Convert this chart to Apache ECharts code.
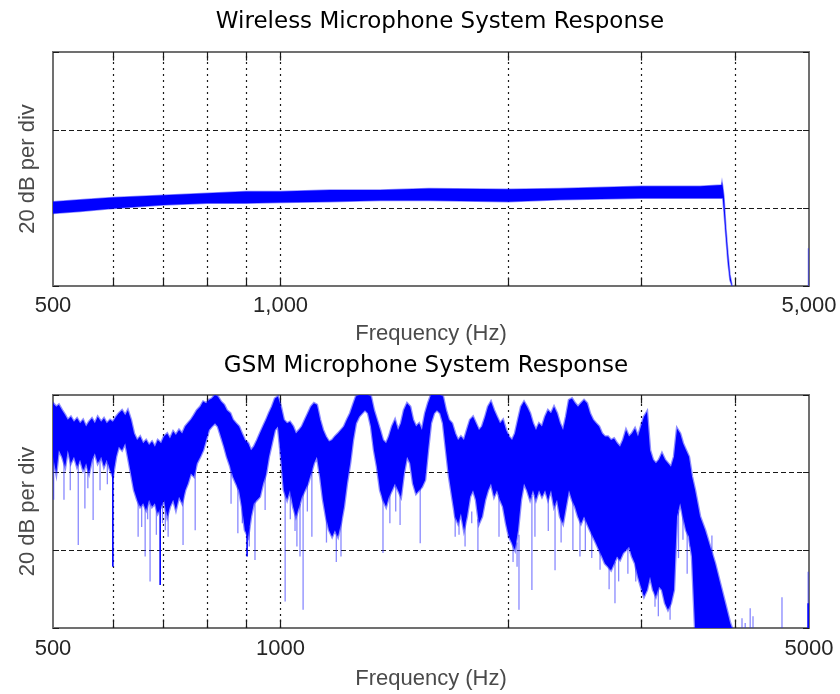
<!DOCTYPE html>
<html>
<head>
<meta charset="utf-8">
<script src="https://cdn.jsdelivr.net/npm/echarts@6/dist/echarts.min.js"></script>
<style>
html,body{margin:0;padding:0;background:#ffffff;}
#main{width:840px;height:694px;}
</style>
</head>
<body>
<div id="main"></div>
<script>
// ---------- DATA ----------
const titles = ['Wireless Microphone System Response', 'GSM Microphone System Response'];
const xAxisName = 'Frequency (Hz)';
const yAxisName = '20 dB per div';
const tickValues = [500, 1000, 5000];
const topTickLabels = ['500', '1,000', '5,000'];
const bottomTickLabels = ['500', '1000', '5000'];
const gridFreqs = [600, 700, 800, 900, 1000, 2000, 3000, 4000];
const dbMin = 0, dbMax = 60, dbStep = 20;

// Wireless response: upper and lower edge of the noisy trace (dB)
const wirelessFreq = [500, 543, 600, 700, 800, 900, 1000, 1162, 1354, 1571, 2000, 2342, 3000, 3588, 3830, 3836, 3845, 3859, 3882, 3906, 3930, 3954];
const wirelessHi   = [21.6, 22.1, 22.7, 23.3, 23.8, 24.2, 24.2, 24.6, 24.6, 25.0, 24.8, 25.0, 25.6, 25.6, 25.9, 26.7, 25.5, 23.0, 15.0, 8.5, 3.0, 0.3];
const wirelessLo   = [18.6, 19.1, 19.9, 20.8, 21.2, 21.2, 21.4, 21.6, 21.9, 21.9, 21.6, 22.1, 22.5, 22.5, 22.5, 22.5, 22.5, 19.0, 12.5, 6.0, 1.5, 0];
const wirelessSpikeFreq = [4990];
const wirelessSpikeTop = [9.7];
const wirelessSpikeBottom = [0];

// GSM response: upper edge and lower edge of the dense trace (dB)
const gsmFreq = [
  500,505,509,514,519,523,528,533,538,543,
  548,553,558,563,568,573,579,584,589,595,
  600,606,611,617,623,628,634,640,646,652,
  658,664,670,676,682,688,695,701,708,714,
  721,727,734,741,748,754,761,768,775,783,
  790,797,804,811,819,826,834,842,849,858,
  865,873,881,889,897,906,914,922,931,939,
  948,957,965,974,983,992,1001,1010,1020,1029,
  1039,1048,1058,1067,1077,1087,1097,1107,1117,1128,
  1138,1148,1159,1170,1180,1191,1202,1213,1224,1236,
  1247,1258,1270,1282,1293,1305,1317,1329,1341,1354,
  1366,1379,1391,1404,1417,1430,1443,1456,1470,1484,
  1497,1511,1525,1538,1553,1567,1581,1596,1610,1626,
  1640,1655,1670,1686,1702,1717,1732,1748,1764,1781,
  1797,1813,1830,1847,1865,1881,1898,1916,1933,1951,
  1969,1987,2005,2024,2042,2061,2080,2099,2118,2138,
  2157,2177,2197,2217,2238,2258,2279,2300,2321,2342,
  2364,2385,2407,2429,2452,2474,2497,2520,2543,2566,
  2590,2614,2638,2662,2686,2711,2736,2761,2786,2812,
  2838,2864,2890,2916,2943,2970,2997,3025,3053,3081,
  3109,3137,3166,3195,3225,3254,3284,3314,3345,3377,
  3406,3438,3469,3501,3534,3588,3644,3700,3757,3814,
  3873,3932,3954
];
const gsmHi = [
  57.9,57.0,57.5,56.1,54.8,53.6,54.4,53.1,54.0,52.7,
  53.6,51.9,53.1,54.0,52.7,54.4,53.1,54.0,52.7,53.6,
  53.1,54.4,55.3,56.1,54.8,56.1,53.6,50.1,48.4,49.3,
  47.6,48.4,47.1,48.0,46.7,48.4,47.6,49.3,50.1,48.8,
  50.6,49.7,51.0,50.1,51.9,52.7,53.6,54.8,56.1,57.0,
  58.3,57.9,58.7,59.1,60.0,59.6,58.3,57.5,56.1,55.3,
  53.6,52.7,51.9,50.1,48.4,47.6,45.8,46.7,48.4,50.1,
  51.9,53.6,55.3,57.0,59.1,59.6,57.0,53.6,52.7,53.1,
  51.9,50.1,51.0,51.9,53.6,55.3,57.0,57.9,57.5,53.6,
  51.0,49.3,48.0,48.4,49.3,50.1,51.0,51.9,53.6,55.3,
  57.5,59.6,60.0,60.0,60.0,60.0,59.6,56.1,53.6,51.0,
  48.4,47.6,49.3,51.9,53.6,51.0,52.7,56.1,57.9,57.0,
  53.6,51.9,52.7,51.0,55.3,57.9,60.0,60.0,60.0,60.0,
  59.6,56.1,53.6,52.7,50.1,48.4,49.3,48.4,51.0,53.6,
  54.4,52.7,51.0,51.9,54.4,57.0,58.3,56.1,54.4,52.7,
  53.6,51.0,49.3,48.4,50.1,53.6,57.0,58.3,57.0,55.3,
  52.7,51.0,52.7,51.9,54.4,56.1,55.3,57.0,55.3,52.7,
  51.0,54.4,58.7,59.1,57.9,57.0,57.9,58.7,57.9,55.3,
  53.6,52.7,51.9,50.1,49.3,49.3,48.4,48.8,47.6,46.7,
  48.4,51.0,49.3,50.1,51.4,49.3,51.9,54.4,55.7,45.8,
  43.3,42.4,43.3,45.0,43.3,42.4,41.5,44.1,51.4,50.1,
  47.6,45.8,44.1,39.0,35.5,28.7,25.2,20.9,16.6,11.5,
  6.4,1.3,0
];
const gsmLo = [
  44.1,39.8,45.8,44.1,41.5,45.8,42.4,44.1,41.5,43.3,
  40.6,42.4,39.8,43.3,45.0,42.4,44.1,41.5,43.3,40.6,
  39.0,44.1,46.7,45.8,47.6,44.1,39.8,35.5,33.0,31.2,
  32.1,30.4,33.0,31.2,32.1,29.5,31.2,33.0,28.7,31.2,
  33.0,30.4,33.8,32.1,35.5,37.2,39.8,39.0,42.4,44.1,
  45.8,48.4,51.0,51.9,52.7,51.9,49.3,46.7,44.1,41.5,
  39.0,37.2,35.5,31.2,25.2,23.5,28.7,32.1,33.0,33.8,
  37.2,39.8,44.1,47.6,51.0,51.9,44.1,35.5,33.0,35.5,
  31.2,28.7,31.2,33.8,35.5,37.2,39.8,42.4,44.1,39.0,
  33.0,28.7,25.2,23.5,25.2,23.5,26.9,31.2,37.2,42.4,
  48.4,52.7,54.4,55.3,56.1,55.3,51.9,45.8,41.5,35.5,
  33.0,31.2,33.8,35.5,37.2,35.5,33.8,39.8,44.1,42.4,
  37.2,34.6,35.5,36.3,38.1,45.8,52.7,55.3,56.1,55.3,
  52.7,45.8,39.0,33.8,28.7,26.9,29.5,25.2,28.7,33.8,
  35.5,33.0,26.9,28.7,33.0,35.5,37.2,33.8,35.5,33.0,
  31.2,26.9,23.5,21.8,20.1,25.2,33.0,37.2,35.5,33.0,
  35.5,33.0,35.5,33.8,35.5,33.0,35.5,31.2,33.0,28.7,
  26.9,31.2,35.5,33.0,31.2,28.7,26.9,28.7,26.9,25.2,
  23.5,21.8,20.1,18.4,16.6,15.8,14.9,16.6,18.4,17.5,
  19.3,20.1,20.9,18.4,16.6,13.2,10.6,8.1,9.8,13.2,
  9.8,8.1,10.6,9.8,6.4,4.7,6.4,9.8,28.7,32.1,
  28.7,25.2,23.5,18.4,0,0,0,0,0,0,
  0,0,0
];
// Thin (light) spikes of the GSM trace: frequency, start and end level (dB)
const gsmSpikeFreq = [501,517,527,540,551,556,565,577,590,648,655,662,667,672,685,698,704,710,743,771,860,878,890,909,925,954,1014,1030,1045,1051,1061,1071,1085,1100,1150,1185,1202,1366,1395,1420,1439,1530,1702,1722,1754,1790,1824,1945,2030,2055,2067,2150,2170,2260,2307,2350,2436,2489,2530,2580,2646,2720,2769,2800,2880,2950,3128,3160,3275,3360,3406,3450,3481,3720,4077,4117,4180,4216,4605,4987];
const gsmSpikeTop    = [46,44,45,44,44,44,44,44,44,36,34,34,33,34,34,33,33,31,34,42,44,38,34,26,33,40,37,38,32,30,32,35,38,41,30,27,28,34,35,38,35,37,30,29,27,30,28,34,24,22,24,34,34,34,32,31,33,28,28,28,20,18,17,18,21,18,9,12,7,30,30,26,25,23.8,2.5,1.3,5.1,3.0,7.9,14.5];
const gsmSpikeBottom = [33.0,33.0,35.5,21.4,30.8,36.0,27.8,35.5,37.0,23.5,26.0,18.4,28.0,12.0,24.0,27.0,25.2,23.5,21.4,25.2,32.0,24.4,27.0,21.0,17.5,30.4,6.8,28.0,25.0,21.0,18.4,4.7,30.0,23.5,22.0,17.0,18.4,19.3,27.0,30.0,26.5,21.8,23.5,24.0,21.0,27.0,20.1,23.5,17.0,15.8,4.7,9.8,23.5,25.0,14.9,22.0,20.1,18.4,20.0,18.0,15.0,10.0,6.4,12.0,14.0,12.0,5.5,3.0,2.1,18.0,22.7,14.0,21.0,19.0,0,0,0,0,0,0];
// Solid (dark) spikes of the GSM trace
const gsmDarkSpikeFreq = [600, 693, 903, 4987];
const gsmDarkSpikeTop = [42, 33, 26, 6.4];
const gsmDarkSpikeBottom = [15.8, 11.1, 18.4, 0];

// ---------- STYLE ----------
const BLUE = '#0000ff';
const EDGE = 'rgba(0,0,255,0.45)';
const LIGHT = 'rgba(40,40,255,0.55)';
const GRID_COLOR = '#1a1a1a';
const TICK_FONT = 'Liberation Sans';
const TITLE_FONT = 'DejaVu Sans';

const chart = echarts.init(document.getElementById('main'), null, { renderer: 'canvas' });

function tickFormatter(labels) {
  return function (v) {
    let best = 0, bd = Infinity;
    tickValues.forEach(function (t, i) {
      const d = Math.abs(Math.log(v) - Math.log(t));
      if (d < bd) { bd = d; best = i; }
    });
    return labels[best];
  };
}

function makeXAxis(gi, labels, nameGap, margin) {
  return {
    type: 'log', logBase: 10, gridIndex: gi, min: tickValues[0], max: tickValues[tickValues.length - 1],
    axisLine: { show: false }, axisTick: { show: false }, splitLine: { show: false },
    axisLabel: {
      show: true, margin: margin, formatter: tickFormatter(labels), showMinLabel: true, showMaxLabel: true,
      fontFamily: TICK_FONT, fontSize: 22, color: '#262626'
    },
    name: xAxisName, nameLocation: 'middle', nameGap: nameGap,
    nameTextStyle: { fontFamily: TICK_FONT, fontSize: 22, color: '#4a4a4a' }
  };
}

function makeYAxis(gi, pos, withName) {
  const ax = {
    type: 'value', gridIndex: gi, position: pos, min: dbMin, max: dbMax, interval: dbStep,
    axisLine: { show: false },
    axisTick: { show: true, inside: true, length: 6, lineStyle: { color: GRID_COLOR, width: 1 } },
    axisLabel: { show: false },
    splitLine: withName ? { show: true, showMinLine: false, showMaxLine: false,
      lineStyle: { type: [5, 3], color: GRID_COLOR, width: 1 } } : { show: false }
  };
  if (withName) {
    ax.name = yAxisName; ax.nameLocation = 'middle'; ax.nameGap = 14;
    ax.nameTextStyle = { fontFamily: TICK_FONT, fontSize: 22, color: '#4a4a4a' };
  }
  return ax;
}

function gridMarkLineSeries(xi, yi) {
  const data = [];
  gridFreqs.forEach(function (f) {
    data.push({ xAxis: f, lineStyle: { type: [2, 4], color: GRID_COLOR, width: 1.2 } });
    data.push([{ coord: [f, dbMin], lineStyle: { type: 'solid', color: GRID_COLOR, width: 1.2 } }, { coord: [f, dbMin + 2.2] }]);
    data.push([{ coord: [f, dbMax - 2.2], lineStyle: { type: 'solid', color: GRID_COLOR, width: 1.2 } }, { coord: [f, dbMax] }]);
  });
  return {
    type: 'line', xAxisIndex: xi, yAxisIndex: yi, data: [], silent: true, z: 1,
    markLine: { silent: true, symbol: ['none', 'none'], label: { show: false }, z: 1, animation: false, data: data }
  };
}

function bandSeries(xi, yi, freq, hi, lo, edgeWidth) {
  return {
    type: 'custom', xAxisIndex: xi, yAxisIndex: yi, z: 4, clip: true, silent: true,
    data: [[freq[0], hi[0]]], encode: { x: 0, y: 1 },
    renderItem: function (params, api) {
      const pts = [];
      for (let i = 0; i < freq.length; i++) pts.push(api.coord([freq[i], hi[i]]));
      for (let i = freq.length - 1; i >= 0; i--) pts.push(api.coord([freq[i], lo[i]]));
      return { type: 'polygon', shape: { points: pts }, style: { fill: BLUE, stroke: EDGE, lineWidth: edgeWidth } };
    }
  };
}

function spikeSeries(xi, yi, freq, top, bottom, color, width) {
  return {
    type: 'custom', xAxisIndex: xi, yAxisIndex: yi, z: 3, clip: true, silent: true,
    data: freq.map(function (f, i) { return [f, top[i], bottom[i]]; }),
    encode: { x: 0, y: [1, 2] },
    renderItem: function (params, api) {
      const a = api.coord([api.value(0), api.value(1)]);
      const b = api.coord([api.value(0), api.value(2)]);
      return { type: 'line', shape: { x1: a[0], y1: a[1], x2: b[0], y2: b[1] }, style: { stroke: color, lineWidth: width } };
    }
  };
}

const option = {
  animation: false,
  backgroundColor: '#ffffff',
  title: [
    { text: titles[0], left: 435, top: 6, textAlign: 'center',
      textStyle: { fontFamily: TITLE_FONT, fontSize: 23, fontWeight: 'normal', color: '#000' } },
    { text: titles[1], left: 421, top: 350, textAlign: 'center',
      textStyle: { fontFamily: TITLE_FONT, fontSize: 23, fontWeight: 'normal', color: '#000' } }
  ],
  grid: [
    { left: 53, top: 52, width: 756, height: 234, show: true, borderColor: '#707070', borderWidth: 2, backgroundColor: 'transparent' },
    { left: 53, top: 395, width: 756, height: 233, show: true, borderColor: '#707070', borderWidth: 2, backgroundColor: 'transparent' }
  ],
  xAxis: [
    makeXAxis(0, topTickLabels, 37, 9),
    makeXAxis(1, bottomTickLabels, 40, 10)
  ],
  yAxis: [
    makeYAxis(0, 'left', true), makeYAxis(0, 'right', false),
    makeYAxis(1, 'left', true), makeYAxis(1, 'right', false)
  ],
  series: [
    gridMarkLineSeries(0, 0),
    gridMarkLineSeries(1, 2),
    spikeSeries(0, 0, wirelessSpikeFreq, wirelessSpikeTop, wirelessSpikeBottom, LIGHT, 1.2),
    bandSeries(0, 0, wirelessFreq, wirelessHi, wirelessLo, 1.5),
    spikeSeries(1, 2, gsmSpikeFreq, gsmSpikeTop, gsmSpikeBottom, LIGHT, 1.3),
    spikeSeries(1, 2, gsmDarkSpikeFreq, gsmDarkSpikeTop, gsmDarkSpikeBottom, BLUE, 1.6),
    bandSeries(1, 2, gsmFreq, gsmHi, gsmLo, 2.5)
  ]
};
chart.setOption(option);
</script>
</body>
</html>
